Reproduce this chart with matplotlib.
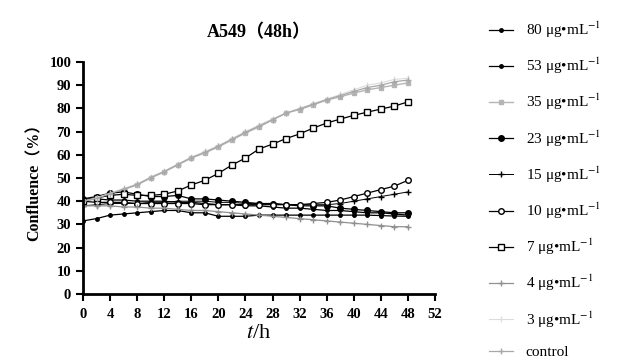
import matplotlib
matplotlib.use("Agg")
import matplotlib.pyplot as plt
import numpy as np

plt.rcParams['mathtext.fontset'] = 'stix'
plt.rcParams['font.family'] = ['Liberation Serif', 'Noto Sans CJK SC', 'DejaVu Sans']

time_h = list(range(0, 49, 2))

c80 = [41, 41, 40.5, 40.5, 40, 40, 40, 39.5, 39.5, 39, 38.5, 38.5, 38, 38, 37.5, 37, 37, 36.5, 36, 36, 35.5, 35, 35, 34.5, 34]
c53 = [31.5, 32.5, 34, 34.5, 35, 35.5, 36, 36, 35, 35, 33.5, 33.5, 33.5, 34, 34, 34, 34, 34, 34, 34, 34, 34, 33.8, 33.6, 33.5]
c35 = [40, 41, 43, 45, 47, 50, 52.6, 55.6, 58.6, 60.8, 63.4, 66.4, 69.4, 72, 75, 78, 79.5, 81.5, 83.6, 85, 86.6, 88, 89, 90, 91]
c23 = [41, 42, 43.5, 44, 43, 42, 42, 42.5, 41, 41, 40.5, 40, 39.5, 39, 39, 38.5, 38, 38, 38, 37, 36.5, 36, 35.5, 35, 35]
c15 = [38, 38.5, 39, 39, 39, 39.5, 39.5, 40, 40, 40, 39.5, 39.5, 39, 39, 39, 38.5, 38.5, 38.5, 38.5, 39, 40, 41, 42, 43, 44]
c10 = [40, 39.5, 39.5, 39.5, 39, 39, 39, 39, 39, 38.5, 38.5, 38.5, 38.5, 38.5, 38.5, 38.5, 38.5, 39, 39.5, 40.5, 42, 43.5, 45, 46.5, 49]
c7 = [40, 41.5, 42.5, 43, 42.5, 42.5, 43, 44.4, 47, 49, 52, 55.6, 58.6, 62.5, 64.6, 67, 69, 71.5, 73.7, 75.4, 77, 78.4, 79.7, 81, 82.8]
c4 = [38, 38, 38, 37.5, 37.5, 37, 37, 36.5, 36, 36, 35.5, 35, 34.5, 34, 33.5, 33, 32.5, 32, 31.5, 31, 30.5, 30, 29.5, 29, 29]
c3 = [40, 41.5, 43.5, 45.5, 47.5, 50.5, 53, 56, 59, 61.5, 64, 67, 70, 72.8, 75.5, 78, 80, 82, 84, 86, 88, 90, 91, 92.5, 93]
ccontrol = [40, 41.2, 43.2, 45.2, 47.2, 50.2, 52.8, 55.8, 58.8, 61, 63.7, 66.7, 69.7, 72.4, 75.2, 78, 79.8, 81.8, 83.8, 85.5, 87.3, 89, 90, 91.5, 92.2]

labels = ["80", "53", "35", "23", "15", "10", "7", "4", "3"]

fig = plt.figure(figsize=(6.32, 3.58), dpi=100)
ax = fig.add_axes([83/632, 64/358, 352/632, 232/358])

styles = [
    (c80, dict(color='black', marker='o', ms=2.5, lw=0.9)),
    (c53, dict(color='black', marker='o', ms=2.5, lw=0.9)),
    (c35, dict(color='#b5b5b5', marker='s', ms=3, lw=1.0)),
    (c23, dict(color='black', marker='o', ms=4, lw=0.9)),
    (c15, dict(color='black', marker='+', ms=4, lw=0.7)),
    (c10, dict(color='black', marker='o', ms=4, mfc='white', lw=0.9)),
    (c7, dict(color='black', marker='s', ms=4, mfc='white', lw=0.9)),
    (c4, dict(color='#909090', marker='+', ms=4, lw=0.9)),
    (c3, dict(color='#dcdcdc', marker='|', ms=4, lw=0.8)),
    (ccontrol, dict(color='#a8a8a8', marker='+', ms=4, lw=0.9)),
]
names = [f"{l} μg•mL$^{{-1}}$" for l in labels] + ["control"]
for (vals, st), nm in zip(styles, names):
    ax.plot(time_h, vals, label=nm, **st)

ax.set_xlim(0, 52)
ax.set_ylim(0, 100)
ax.set_xticks(range(0, 53, 4))
ax.set_yticks(range(0, 101, 10))
for s in ['top', 'right']:
    ax.spines[s].set_visible(False)
for s in ['left', 'bottom']:
    ax.spines[s].set_linewidth(2)
ax.tick_params(direction='out', length=5, width=1.5, labelsize=10.5)
ax.tick_params(axis='x', pad=5)
for lab in ax.get_xticklabels() + ax.get_yticklabels():
    lab.set_fontweight('bold')

ax.set_title("A549（48h）", fontsize=13, fontweight='bold', pad=18)
ax.set_ylabel("Confluence（%）", fontsize=11.5, fontweight='bold', labelpad=5)
ax.set_xlabel("$t$/h", fontsize=16, labelpad=2)

leg = fig.legend(loc='upper left', bbox_to_anchor=(0.764, 0.962), frameon=False,
                 fontsize=11, handlelength=1.6, labelspacing=1.04, handletextpad=0.8,
                 borderaxespad=0.0)

fig.savefig("out.png", dpi=100)
